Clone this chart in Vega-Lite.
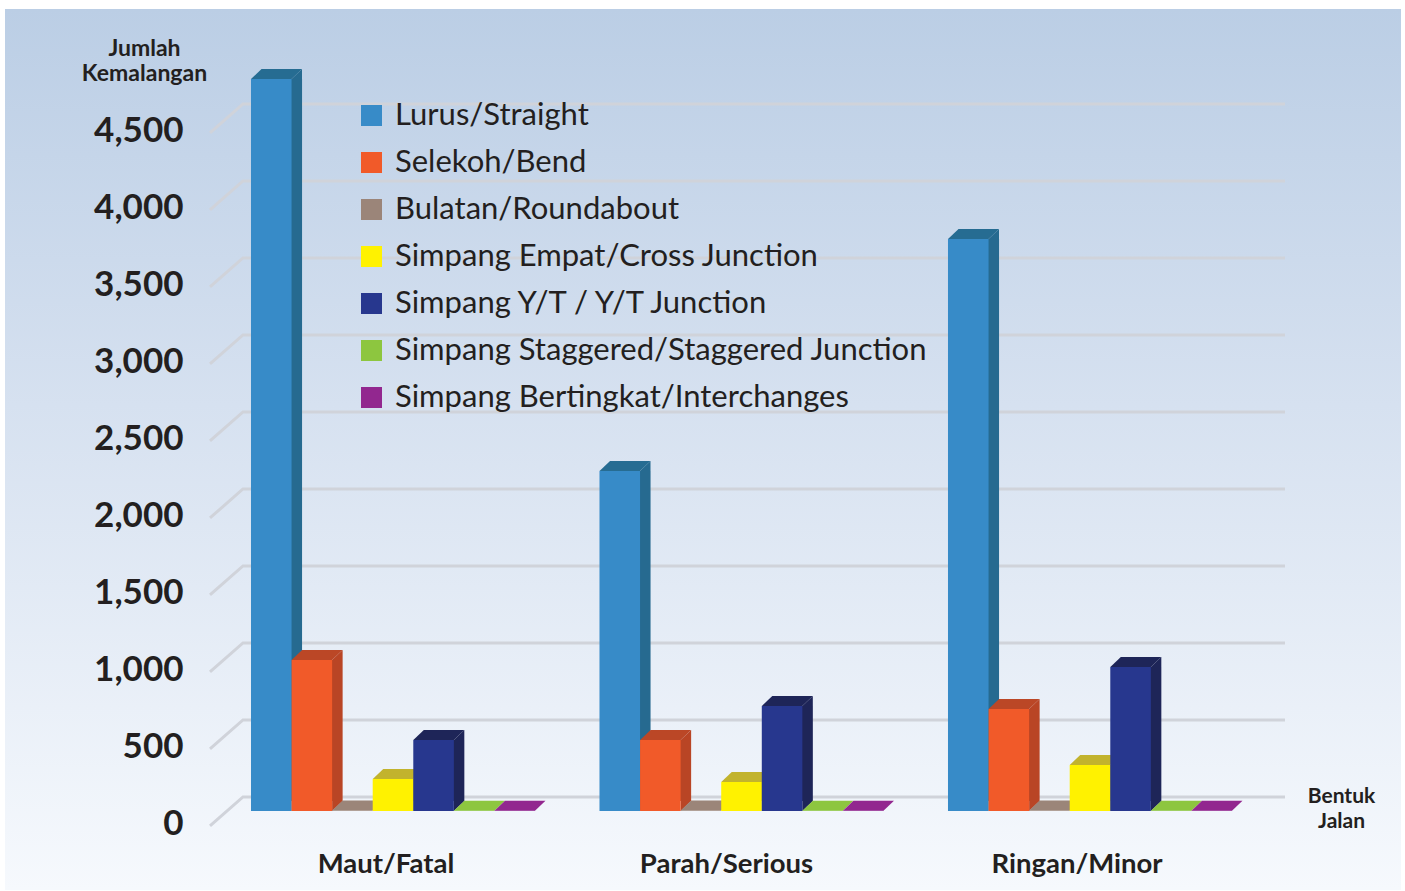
{
"$schema":"https://vega.github.io/schema/vega-lite/v6.json",
"width":1405,"height":891,"padding":0,"autosize":{"type":"none"},"background":"white",
"config":{"view":{"stroke":null},"font":"Lato"},
"datasets":{
"bars":[
{"jenis":"Maut/Fatal","bentuk":"Lurus/Straight","value":4753},
{"jenis":"Maut/Fatal","bentuk":"Selekoh/Bend","value":980},
{"jenis":"Maut/Fatal","bentuk":"Bulatan/Roundabout","value":3},
{"jenis":"Maut/Fatal","bentuk":"Simpang Empat/Cross Junction","value":208},
{"jenis":"Maut/Fatal","bentuk":"Simpang Y/T / Y/T Junction","value":461},
{"jenis":"Maut/Fatal","bentuk":"Simpang Staggered/Staggered Junction","value":2},
{"jenis":"Maut/Fatal","bentuk":"Simpang Bertingkat/Interchanges","value":1},
{"jenis":"Parah/Serious","bentuk":"Lurus/Straight","value":2208},
{"jenis":"Parah/Serious","bentuk":"Selekoh/Bend","value":461},
{"jenis":"Parah/Serious","bentuk":"Bulatan/Roundabout","value":3},
{"jenis":"Parah/Serious","bentuk":"Simpang Empat/Cross Junction","value":188},
{"jenis":"Parah/Serious","bentuk":"Simpang Y/T / Y/T Junction","value":682},
{"jenis":"Parah/Serious","bentuk":"Simpang Staggered/Staggered Junction","value":2},
{"jenis":"Parah/Serious","bentuk":"Simpang Bertingkat/Interchanges","value":1},
{"jenis":"Ringan/Minor","bentuk":"Lurus/Straight","value":3714},
{"jenis":"Ringan/Minor","bentuk":"Selekoh/Bend","value":662},
{"jenis":"Ringan/Minor","bentuk":"Bulatan/Roundabout","value":3},
{"jenis":"Ringan/Minor","bentuk":"Simpang Empat/Cross Junction","value":299},
{"jenis":"Ringan/Minor","bentuk":"Simpang Y/T / Y/T Junction","value":935},
{"jenis":"Ringan/Minor","bentuk":"Simpang Staggered/Staggered Junction","value":2},
{"jenis":"Ringan/Minor","bentuk":"Simpang Bertingkat/Interchanges","value":1}
],
"grid":[{"v":0},{"v":500},{"v":1000},{"v":1500},{"v":2000},{"v":2500},{"v":3000},{"v":3500},{"v":4000},{"v":4500}]
},
"data":{"name":"bars"},
"resolve":{"scale":{"color":"independent","xOffset":"independent"}},
"encoding":{
"x":{"field":"jenis","type":"nominal","sort":null,"scale":{"type":"band","domain":["Maut/Fatal","Parah/Serious","Ringan/Minor"],"range":[218.75,1264.25],"paddingInner":0.185,"paddingOuter":0.0925},
 "axis":{"zindex":1,"orient":"bottom","offset":-41,"domain":false,"ticks":false,"labelAngle":0,"labelPadding":0,"labelOffset":{"condition":[{"test":"datum.value==='Maut/Fatal'","value":-7},{"test":"datum.value==='Parah/Serious'","value":-15}],"value":-13},"labelFontSize":27.5,"labelFontWeight":"bold","labelColor":"#231f20","title":["Bentuk","Jalan"],"titleFontSize":21,"titleFontWeight":"bold","titleColor":"#231f20","titleAlign":"center","titleBaseline":"top","titleX":1341,"titleY":-65,"titleLineHeight":25}},
"xOffset":{"field":"bentuk","type":"nominal","sort":null,"scale":{"type":"band","domain":["Lurus/Straight","Selekoh/Bend","Bulatan/Roundabout","Simpang Empat/Cross Junction","Simpang Y/T / Y/T Junction","Simpang Staggered/Staggered Junction","Simpang Bertingkat/Interchanges"],"paddingInner":0,"paddingOuter":0}},
"y":{"field":"value","type":"quantitative","stack":null,"scale":{"domain":[-519.5,5266],"nice":false,"zero":false},
 "axis":{"zindex":1,"values":[0,500,1000,1500,2000,2500,3000,3500,4000,4500],"format":",.0f","orient":"left","offset":-186,"grid":false,"domain":false,"ticks":false,"labelPadding":3,"labelOffset":13,"labelFontSize":35,"labelFontWeight":"bold","labelColor":"#231f20","title":["Jumlah","Kemalangan"],"titleFontSize":23,"titleFontWeight":"bold","titleColor":"#231f20","titleAngle":0,"titleAlign":"center","titleBaseline":"top","titleX":-42,"titleY":37,"titleLineHeight":25}}
},
"layer":[
{"data":{"values":[{"panel":"background"}]},
 "mark":{"type":"point","shape":"M-697.5,-436.5 H698.5 V444.5 H-697.5 Z","size":4,"filled":true,"opacity":1,"strokeWidth":0,"fill":{"gradient":"linear","x1":0,"y1":0,"x2":0,"y2":1,"stops":[{"offset":0,"color":"#bbcee5"},{"offset":0.45,"color":"#d6e1f0"},{"offset":1,"color":"#f6f9fd"}]}},
 "encoding":{"x":{"value":702.5},"y":{"value":445.5},"xOffset":{"value":0}}},
{"data":{"name":"grid"},
 "mark":{"type":"point","shape":"M-492.5,15 L-459.5,-14 H582.5","size":4,"filled":false,"opacity":1,"stroke":"#d0d3da","strokeWidth":3},
 "encoding":{"x":{"value":702.5},"xOffset":{"value":0},"y":{"field":"v","type":"quantitative"}}},
{"transform":[{"filter":"datum.value>65"}],
 "mark":{"type":"bar","y2Offset":-10},
 "encoding":{"y2":{"datum":0},
 "xOffset":{"field":"bentuk","type":"nominal","sort":null,"scale":{"type":"band","domain":["Lurus/Straight","Selekoh/Bend","Bulatan/Roundabout","Simpang Empat/Cross Junction","Simpang Y/T / Y/T Junction","Simpang Staggered/Staggered Junction","Simpang Bertingkat/Interchanges"],"paddingInner":0,"paddingOuter":0,"range":[10.5,294.5]}},
 "color":{"field":"bentuk","type":"nominal","sort":null,"legend":null,"scale":{"domain":["Lurus/Straight","Selekoh/Bend","Simpang Empat/Cross Junction","Simpang Y/T / Y/T Junction"],"range":["#266a90","#b94525","#c2b32d","#1e2558"]}}}},
{"transform":[{"filter":"datum.value>65"}],
 "mark":{"type":"point","shape":"M20.25,0 L30.75,-10 V0 Z","size":4,"filled":true,"opacity":1,"strokeWidth":0},
 "encoding":{"color":{"field":"bentuk","type":"nominal","sort":null,"legend":null,"scale":{"domain":["Lurus/Straight","Selekoh/Bend","Simpang Empat/Cross Junction","Simpang Y/T / Y/T Junction"],"range":["#266a90","#b94525","#c2b32d","#1e2558"]}}}},
{"transform":[{"filter":"datum.value>65"}],
 "mark":{"type":"point","shape":"M20.25,0 L30.75,-10 H20.25 Z","size":4,"filled":true,"opacity":1,"strokeWidth":0},
 "encoding":{"y":{"datum":0},"color":{"field":"bentuk","type":"nominal","sort":null,"legend":null,"scale":{"domain":["Lurus/Straight","Selekoh/Bend","Simpang Empat/Cross Junction","Simpang Y/T / Y/T Junction"],"range":["#266a90","#b94525","#c2b32d","#1e2558"]}}}},
{"mark":{"type":"point","shape":"M-20.25,0 L-9.75,-10 H30.75 L20.25,0 Z","size":4,"filled":true,"opacity":1,"strokeWidth":0},
 "encoding":{"color":{"field":"bentuk","type":"nominal","sort":null,"legend":null,"scale":{"domain":["Lurus/Straight","Selekoh/Bend","Bulatan/Roundabout","Simpang Empat/Cross Junction","Simpang Y/T / Y/T Junction","Simpang Staggered/Staggered Junction","Simpang Bertingkat/Interchanges"],"range":["#266c92","#bb4726","#9b8579","#c2b32d","#1e2558","#8dc63f","#92278f"]}}}},
{"mark":{"type":"bar"},
 "encoding":{
 "y2":{"datum":0},
 "color":{"field":"bentuk","type":"nominal","sort":null,"scale":{"domain":["Lurus/Straight","Selekoh/Bend","Bulatan/Roundabout","Simpang Empat/Cross Junction","Simpang Y/T / Y/T Junction","Simpang Staggered/Staggered Junction","Simpang Bertingkat/Interchanges"],"range":["#378bc8","#f15a29","#9b8579","#fff200","#27378e","#8dc63f","#92278f"]},
  "legend":{"orient":"none","legendX":356,"legendY":100,"title":null,"padding":0,"symbolType":"square","symbolSize":441,"symbolStrokeWidth":0,"symbolOpacity":1,"labelFontSize":31,"labelColor":"#231f20","labelLimit":700,"labelOffset":8,"rowPadding":15,"labelFont":"Lato"}}}}
]
}
